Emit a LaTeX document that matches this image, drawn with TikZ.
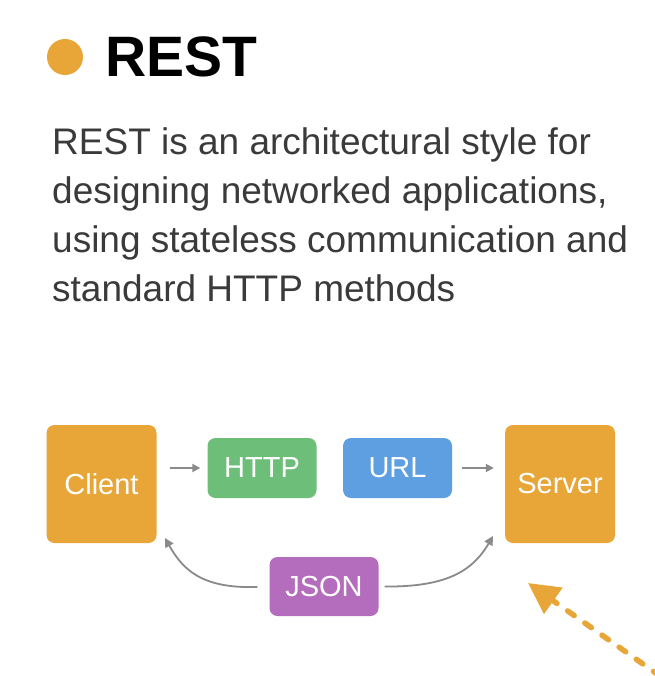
\documentclass[tikz,border=0pt]{standalone}
\usepackage{fontspec}
\setmainfont{Liberation Sans}
\usetikzlibrary{arrows.meta}
\definecolor{restorange}{HTML}{E9A638}
\definecolor{restgreen}{HTML}{6DBE78}
\definecolor{restblue}{HTML}{5E9FE2}
\definecolor{restpurple}{HTML}{B46CBC}
\definecolor{textgray}{HTML}{3A3A3A}
\definecolor{arrowgray}{HTML}{8A8A8A}
\tikzset{
  box/.style={rounded corners=8pt, inner sep=0pt, text=white,
    font=\fontsize{29}{32}\selectfont},
  bigbox/.style={box, fill=restorange, minimum width=110pt, minimum height=118pt},
  smallbox/.style={box, minimum width=109pt, minimum height=60pt},
  para/.style={anchor=base west, inner sep=0pt, text=textgray,
    font=\fontsize{37}{44}\selectfont},
  flow/.style={draw=arrowgray, line width=1.8pt,
    -{Triangle[length=8pt,width=8pt]}},
  curveflow/.style={draw=arrowgray, line width=1.8pt,
    -{Triangle[length=9pt,width=9pt]}},
  hint/.style={draw=restorange, line width=5.5pt, line cap=round,
    dash pattern=on 8pt off 13pt,
    -{Triangle[length=31pt,width=31pt,line cap=butt]}}
}
\begin{document}
\begin{tikzpicture}[x=1pt,y=-1pt]
\useasboundingbox (0,0) rectangle (654,676);
\fill[white] (0,0) rectangle (654,676);

% title
\node[circle, fill=restorange, minimum size=36pt, inner sep=0pt] (dot) at (65,57) {};
\node[anchor=base west, inner sep=0pt, text=black,
  font=\fontsize{57}{60}\selectfont\bfseries] (title) at (105,77) {REST};

% paragraph
\node[para] (p1) at (52,155) {REST is an architectural style for};
\node[para] (p2) at (52,204) {designing networked applications,};
\node[para] (p3) at (52,252) {using stateless communication and};
\node[para] (p4) at (52,301) {standard HTTP methods};

% diagram
\node[bigbox] (client) at (101.5,484) {Client};
\node[bigbox] (server) at (560,484) {Server};
\node[smallbox, fill=restgreen] (http) at (262,468) {HTTP};
\node[smallbox, fill=restblue] (url) at (397.5,468) {URL};
\node[smallbox, fill=restpurple, minimum height=59pt] (json) at (324,586.5) {JSON};

\draw[flow, shorten <=13pt, shorten >=7pt] (client.east |- http.west) -- (http.west);
\draw[flow, shorten <=10pt, shorten >=11pt] (url.east) -- (url.east -| server.west);

\coordinate (cin) at (165,538);
\coordinate (sin) at (493,536);
\draw[curveflow, shorten <=12pt] (json.west) .. controls (200,589) and (182,568) .. (cin);
\draw[curveflow, shorten <=6pt] (json.east) .. controls (445,587) and (472,572) .. (sin);

% dashed pointer
\coordinate (hstart) at (660,676);
\coordinate (htip) at (528,583);
\draw[hint] (hstart) -- (htip);
\end{tikzpicture}
\end{document}
